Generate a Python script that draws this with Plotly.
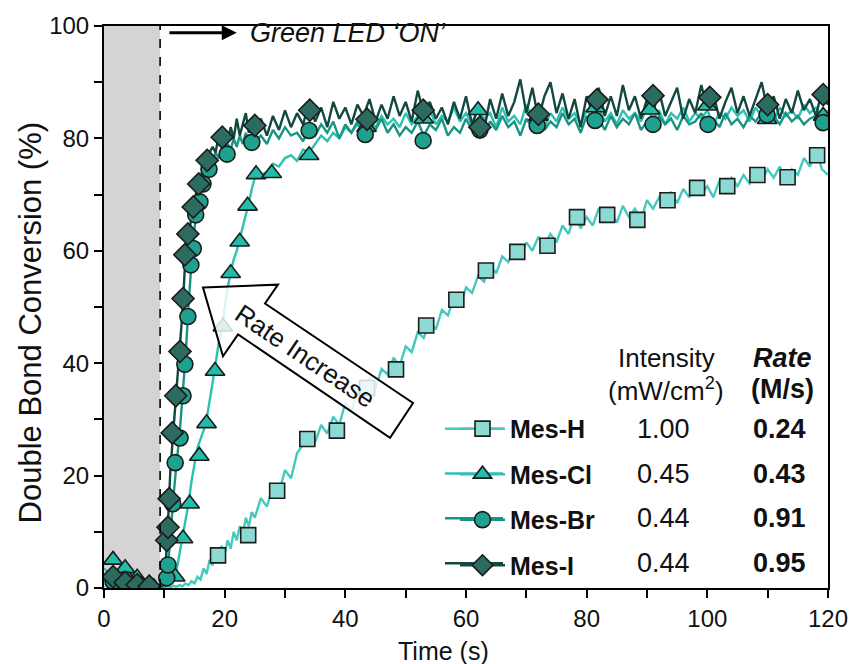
import plotly.graph_objects as go

# ---------------- sampling times of the recorded traces (s) ----------------
t_pre = list(range(0, 10))                      # dark period
t_rise = [9.5 + 0.5 * i for i in range(32)]     # 9.5 ... 25.0 s, LED on
t_post = list(range(26, 121))                   # 26 ... 120 s
time_s = t_pre + t_rise + t_post

# ---------------- conversion traces (%) ----------------
mes_h_pre = [1.0, 0.5, 1.2, 0.6, 0.8, 0.3, 0.5, 0.2, 0.3, 0.1]
mes_h_rise = [0.2, 0.1, 0.3, 0.1, 0.4, 0.2, 0.5, 0.3, 0.8, 0.5,
              1.2, 0.8, 2.0, 1.5, 3.5, 2.5, 5.0, 4.0, 6.5, 5.5,
              7.5, 6.0, 8.5, 7.0, 10.0, 8.5, 11.0, 9.5, 12.5, 11.0,
              13.5, 12.5]
mes_h_post = [16, 14.5, 18, 17, 21, 19.5, 24, 25.5, 27, 26,
              29, 27.5, 30.5, 29, 33, 31.5, 35, 34, 37.5, 35.5,
              39, 38, 41, 39.5, 43, 42, 45.5, 44.5, 47.5, 46,
              49.5, 48.5, 51.5, 50, 53.5, 52.5, 55.5, 54.5, 57.5, 56,
              59, 58, 60.5, 59, 61.5, 60, 62.5, 61, 63, 61.5,
              64.5, 63, 66.5, 64, 66, 64.5, 67.5, 65.5, 67, 65,
              68, 66, 67.5, 65.5, 69, 67.5, 69.5, 68, 70.5, 68.5,
              71, 69.5, 72, 70, 71.5, 69.5, 72.5, 71, 73, 71.5,
              73.5, 72, 74, 72.5, 74.5, 73, 75, 72.5, 74.5, 73.5,
              76.5, 75, 78, 74.5, 73.5]

mes_cl_pre = [3.5, 2.5, 3.0, 1.8, 1.2, 1.5, 0.8, 1.0, 0.5, 0.6]
mes_cl_rise = [0.4, 0.3, 0.5, 0.8, 1.5, 3, 6, 9, 12, 15,
               19, 22, 25, 26.5, 28, 30, 33, 36.5, 40, 43.5,
               46, 50, 53.5, 56, 58.5, 60, 62, 64.5, 66.5, 68.5,
               71, 73]
mes_cl_post = [73.5, 74, 75.5, 75, 76.5, 77, 76, 78, 77.5, 79,
               80.5, 79.5, 81, 80, 82, 81, 82.5, 81.5, 83, 82,
               84, 82.5, 83.5, 82, 84.5, 82.5, 84, 83, 85, 82.5,
               84, 83, 85.5, 83, 84.5, 82.5, 85, 83.5, 84.5, 82,
               85.5, 83, 84, 82.5, 86, 83.5, 85, 82, 84.5, 83,
               85.5, 83.5, 84.5, 82.5, 85, 83.5, 85.5, 83, 84.5, 82.5,
               85, 83.5, 84.5, 83, 85.5, 83.5, 85, 82.5, 84.5, 83.5,
               85.5, 83, 84.5, 83.5, 85, 82.5, 84.5, 83.5, 85.5, 84,
               85, 83, 85.5, 84, 84.5, 83, 85.5, 84, 85, 83.5,
               86, 84.5, 85.5, 84, 85]

mes_br_pre = [0.8, 1.5, 0.5, 1.0, 0.3, 0.7, 0.2, 0.5, 0.1, 0.3]
mes_br_rise = [0.2, 0.4, 2.5, 10, 16, 22, 27, 34, 41, 50,
               58, 64, 68, 70.5, 72.5, 74, 75, 76, 77.5, 76.5,
               78, 77, 79, 78, 80, 78.5, 80.5, 79, 81, 79.5,
               80.5, 79.5]
mes_br_post = [80.5, 79, 81.5, 80, 82, 80.5, 81, 79.5, 82, 80.5,
               82.5, 81, 83, 80, 82.5, 81, 83, 80.5, 82, 81.5,
               83.5, 81, 82.5, 80.5, 82, 81, 83, 80.5, 82.5, 81.5,
               83.5, 80.5, 82, 81, 83.5, 81.5, 82.5, 80.5, 83, 81.5,
               84, 82, 83, 80.5, 83.5, 82, 84, 81.5, 83, 82,
               84.5, 82.5, 83.5, 81, 84, 82.5, 83.5, 81.5, 84, 82,
               83.5, 82.5, 84.5, 81.5, 83, 82, 84, 82.5, 83.5, 81.5,
               84, 82.5, 83, 84.5, 82, 83.5, 82, 84.5, 82.5, 83.5,
               82, 84, 83, 84.5, 83, 84, 82.5, 84.5, 83, 84,
               82.5, 83.5, 84, 83, 82.5]

mes_i_pre = [1.5, 2.4, 0.8, 1.9, 0.6, 1.2, 0.4, 0.9, 0.2, 0.5]
mes_i_rise = [0.3, 0.8, 9, 21, 28, 35, 41, 49, 59, 63,
              66, 69, 71.5, 73, 75, 76, 77.5, 78.5, 77.5, 80.5,
              79, 81.5, 79.5, 82, 80, 83.5, 80.5, 82.5, 84.5, 81,
              83.5, 82]
mes_i_post = [83.5, 80.5, 84, 81.5, 85, 82, 84.5, 82.5, 86.5, 83,
              85.5, 82, 86.5, 83.5, 85.5, 82.5, 86, 84, 87, 83,
              86, 83.5, 87.5, 84, 86.5, 83, 88.5, 84.5, 86.5, 83.5,
              85.5, 82.5, 86.5, 83.5, 87.5, 82.5, 85.5, 81.5, 87, 83.5,
              88, 84, 86.5, 90.5, 84.5, 89, 83.5, 87.5, 90, 84.5,
              88, 83.5, 87, 82, 87.5, 84.5, 89, 84, 87.5, 84,
              89.5, 85, 87.5, 83.5, 87, 84.5, 88.5, 84, 86.5, 89,
              83.5, 87, 84.5, 89.5, 85, 88, 83.5, 86.5, 89, 84.5,
              87.5, 84, 87, 90, 85, 87.5, 83.5, 87, 84.5, 88.5,
              85, 87, 84, 88.5, 86]

# ---------------- marker samples (time s, conversion %) ----------------
mes_h_mk_t = [1, 3, 5, 7, 18.9, 23.9, 28.7, 33.7, 38.6, 43.6, 48.4, 53.4, 58.4,
              63.3, 68.5, 73.5, 78.4, 83.4, 88.4, 93.4, 98.3, 103.3, 108.3, 113.3, 118.2]
mes_h_mk_v = [1.0, 0.6, 0.5, 0.3, 5.8, 9.4, 17.3, 26.5, 28.0, 35.6, 38.9, 46.7, 51.3,
              56.5, 59.8, 60.9, 66.0, 66.4, 65.5, 69.0, 71.2, 71.5, 73.5, 73.1, 77.0]

mes_cl_mk_t = [1.5, 3.5, 5.5, 7.5, 11.8, 13.1, 14.2, 15.8, 17.0, 18.4, 19.7, 21.0, 22.5,
               23.8, 25.2, 27.8, 34.0, 43.5, 53.0, 62.0, 72.0, 81.5, 90.5, 100.0, 109.9, 119.2]
mes_cl_mk_v = [5.0, 3.5, 1.8, 0.8, 2.0, 8.8, 15.0, 23.5, 29.3, 38.6, 46.5, 56.0, 61.6,
               68.0, 73.6, 73.8, 77.0, 82.0, 83.5, 85.0, 84.0, 85.5, 85.1, 85.8, 83.4, 84.0]

mes_br_mk_t = [1.5, 3.5, 5.5, 7.5, 10.4, 10.6, 11.4, 11.8, 12.6, 13.1, 13.4, 13.9, 14.4,
               14.8, 15.2, 15.9, 16.4, 17.4, 20.4, 24.5, 34.0, 43.3, 52.9, 62.3, 71.8,
               81.4, 91.0, 100.1, 109.9, 119.2]
mes_br_mk_v = [1.2, 1.5, 0.8, 0.4, 1.8, 4.1, 15.0, 22.3, 26.7, 34.2, 39.8, 48.3, 57.5,
               60.4, 66.4, 68.7, 71.9, 74.5, 77.2, 79.3, 81.4, 80.7, 79.6, 81.5, 82.3,
               83.2, 82.5, 82.5, 84.2, 82.8]

mes_i_mk_t = [1.5, 3.5, 5.5, 7.5, 10.4, 10.6, 10.8, 11.3, 11.9, 12.6, 13.1, 13.4, 13.9,
              14.8, 15.7, 17.1, 19.6, 25.0, 34.1, 43.6, 52.9, 62.3, 72.0, 81.7, 91.0,
              100.4, 110.0, 119.2]
mes_i_mk_v = [2.0, 1.0, 0.6, 0.3, 8.5, 10.8, 15.9, 27.6, 34.2, 42.1, 51.5, 59.3, 63.0,
              67.8, 71.9, 76.1, 80.2, 82.3, 85.0, 83.4, 85.0, 82.0, 84.3, 86.9, 87.6,
              87.3, 86.0, 87.8]

# ---------------- table next to the legend ----------------
names = ["Mes-H", "Mes-Cl", "Mes-Br", "Mes-I"]
intensity = ["1.00", "0.45", "0.44", "0.44"]
rate = ["0.24", "0.43", "0.91", "0.95"]
led_on_time = 9.3

# ---------------- styles ----------------
FONT = 'Arial, "Liberation Sans", sans-serif'
INK = "#111111"
EDGE = "#1c1c1c"
styles = {
    "Mes-H": dict(line="#45c9bf", fill="#8bdad3", symbol="square", size=15),
    "Mes-Cl": dict(line="#2cc1b1", fill="#22bcab", symbol="triangle-up", size=17),
    "Mes-Br": dict(line="#1a9482", fill="#1fa190", symbol="circle", size=16),
    "Mes-I": dict(line="#11483f", fill="#2b6b60", symbol="diamond", size=17),
}
traces = {
    "Mes-H": (mes_h_pre + mes_h_rise + mes_h_post, mes_h_mk_t, mes_h_mk_v),
    "Mes-Cl": (mes_cl_pre + mes_cl_rise + mes_cl_post, mes_cl_mk_t, mes_cl_mk_v),
    "Mes-Br": (mes_br_pre + mes_br_rise + mes_br_post, mes_br_mk_t, mes_br_mk_v),
    "Mes-I": (mes_i_pre + mes_i_rise + mes_i_post, mes_i_mk_t, mes_i_mk_v),
}

# plot-area geometry in pixels (used to place the legend / labels)
PX_L, PX_R, PX_T, PX_B = 104, 828, 23, 588


def paper_x(px):
    return (px - PX_L) / (PX_R - PX_L)


def paper_y(py):
    return (PX_B - py) / (PX_B - PX_T)


fig = go.Figure()

# continuous traces
for n in names:
    st = styles[n]
    fig.add_trace(go.Scatter(x=time_s, y=traces[n][0], mode="lines",
                             line=dict(color=st["line"], width=2.4),
                             showlegend=False, hoverinfo="skip"))
# sampled markers
for n in names:
    st = styles[n]
    fig.add_trace(go.Scatter(x=traces[n][1], y=traces[n][2], mode="markers",
                             marker=dict(symbol=st["symbol"], size=st["size"], color=st["fill"],
                                         line=dict(color=EDGE, width=1.6)),
                             showlegend=False))
# legend entries (line + marker)
for n in names:
    st = styles[n]
    fig.add_trace(go.Scatter(x=[None], y=[None], mode="lines+markers", name="<b>%s</b>" % n,
                             legendgroup=n,
                             line=dict(color=st["line"], width=2.5),
                             marker=dict(symbol=st["symbol"], size=st["size"], color=st["fill"],
                                         line=dict(color=EDGE, width=1.6))))

# dark period and LED switch-on
fig.add_shape(type="rect", xref="x", yref="y", x0=0, x1=led_on_time, y0=0, y1=100,
              fillcolor="#d4d4d6", line=dict(width=0), layer="below")
fig.add_shape(type="line", xref="x", yref="y", x0=led_on_time, x1=led_on_time, y0=0, y1=100,
              line=dict(color="black", width=1.6, dash="dash"))

# big outlined "Rate Increase" arrow
arrow_pts = [(16.41, 53.45), (28.84, 53.98), (26.69, 50.62), (51.22, 32.92),
             (47.41, 26.73), (22.21, 45.13), (19.72, 41.24)]
path = "M " + " L ".join("%g,%g" % p for p in arrow_pts) + " Z"
fig.add_shape(type="path", xref="x", yref="y", path=path,
              fillcolor="rgba(255,255,255,0.82)", line=dict(color="black", width=2),
              layer="above")

# longer key lines behind the legend symbols
legend_rows_px = [428, 473, 518, 563]
for n, py in zip(names, legend_rows_px):
    fig.add_shape(type="line", xref="paper", yref="paper",
                  x0=paper_x(445), x1=paper_x(503), y0=paper_y(py), y1=paper_y(py),
                  line=dict(color=styles[n]["line"], width=2.5), layer="above")

annotations = [
    dict(x=33.3, y=41.2, xref="x", yref="y", text="Rate Increase", showarrow=False,
         textangle=34, font=dict(size=26, family=FONT, color=INK)),
    # LED arrow
    dict(x=22.0, y=98.8, ax=10.6, ay=98.8, xref="x", yref="y", axref="x", ayref="y",
         text="", showarrow=True, arrowhead=2, arrowsize=1, arrowwidth=3, arrowcolor="black"),
    dict(x=23.8, y=98.8, xref="x", yref="y", xanchor="left", yanchor="middle",
         text="<i>Green LED ‘ON’</i>", showarrow=False,
         font=dict(size=27, family=FONT, color=INK)),
    # axis titles
    dict(x=paper_x(443), y=paper_y(651), xref="paper", yref="paper", text="Time (s)",
         xanchor="center", yanchor="middle", showarrow=False,
         font=dict(size=25, family=FONT, color=INK)),
    dict(x=paper_x(30), y=paper_y(321), xref="paper", yref="paper",
         text="Double Bond Conversion (%)", textangle=-90, showarrow=False,
         xanchor="center", yanchor="middle",
         font=dict(size=31, family=FONT, color=INK)),
    # table headers
    dict(x=93.2, y=40.9, xref="x", yref="y", text="Intensity", showarrow=False,
         font=dict(size=26, family=FONT, color=INK)),
    dict(x=93.2, y=35.4, xref="x", yref="y", text="(mW/cm<sup>2</sup>)", showarrow=False,
         font=dict(size=26, family=FONT, color=INK)),
    dict(x=112.4, y=40.9, xref="x", yref="y", text="<b><i>Rate</i></b>", showarrow=False,
         font=dict(size=27, family=FONT, color=INK)),
    dict(x=112.4, y=35.4, xref="x", yref="y", text="<b>(M/s)</b>", showarrow=False,
         font=dict(size=27, family=FONT, color=INK)),
]
for i in range(len(names)):
    annotations.append(dict(x=92.7, y=paper_y(legend_rows_px[i]) * 100, xref="x", yref="y",
                            text=intensity[i], showarrow=False,
                            font=dict(size=27, family=FONT, color=INK)))
    annotations.append(dict(x=111.9, y=paper_y(legend_rows_px[i]) * 100, xref="x", yref="y",
                            text="<b>%s</b>" % rate[i], showarrow=False,
                            font=dict(size=27, family=FONT, color=INK)))

axis_common = dict(showline=True, linewidth=2, linecolor="black", mirror=True,
                   ticks="outside", ticklen=8, tickwidth=2, tickcolor="black",
                   showgrid=False, zeroline=False,
                   tickfont=dict(size=24, family=FONT, color=INK),
                   minor=dict(dtick=10, ticks="outside", ticklen=8, tickwidth=2,
                              tickcolor="black", showgrid=False))

fig.update_layout(
    width=860, height=664,
    margin=dict(l=PX_L, r=860 - PX_R, t=PX_T, b=664 - PX_B),
    paper_bgcolor="white", plot_bgcolor="white",
    font=dict(family=FONT, size=24, color=INK),
    xaxis=dict(range=[0, 120], tickvals=[0, 20, 40, 60, 80, 100, 120], **axis_common),
    yaxis=dict(range=[0, 100], tickvals=[0, 20, 40, 60, 80, 100], **axis_common),
    showlegend=True,
    legend=dict(x=paper_x(455), y=0.324, xanchor="left", yanchor="top",
                bgcolor="rgba(0,0,0,0)", font=dict(size=25, family=FONT, color=INK),
                tracegroupgap=10, itemwidth=45),
    annotations=annotations,
)

fig.write_html("out.html")
